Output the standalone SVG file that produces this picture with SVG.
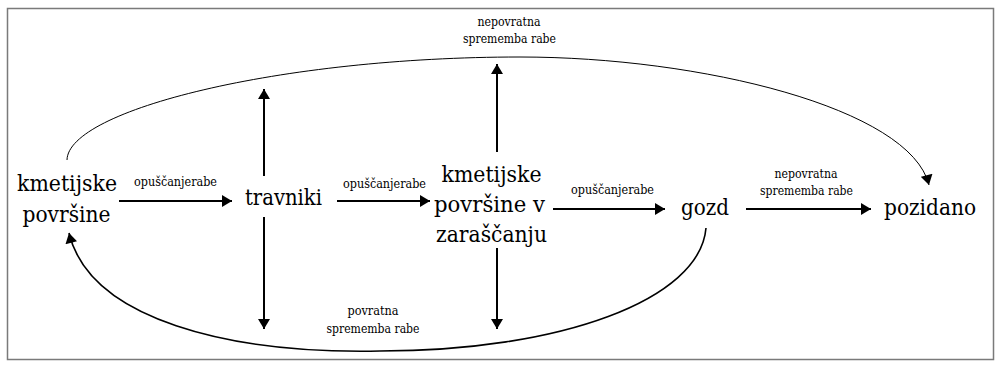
<svg xmlns="http://www.w3.org/2000/svg" width="999" height="365" viewBox="0 0 999 365">
<style>
.node{font-family:'DejaVu Serif',serif;font-size:22px;fill:#000;text-anchor:middle}
.lbl{font-family:'DejaVu Serif',serif;font-size:12px;fill:#000;text-anchor:middle}
.arr{stroke:#000;stroke-width:2;fill:none;marker-end:url(#ah)}
.crv{stroke:#000;fill:none;marker-end:url(#ah)}
</style>
<defs>
<marker id="ah" markerUnits="userSpaceOnUse" markerWidth="12" markerHeight="12" viewBox="0 0 10 12" refX="10" refY="6" orient="auto">
<path d="M0,0 L10,6 L0,12 Z" fill="#000"/>
</marker>
</defs>
<rect x="7.5" y="8.5" width="986" height="351" fill="#fff" stroke="#7a7a7a" stroke-width="1.5"/>
<g id="connectors">
<line class="arr" x1="119" y1="201" x2="232" y2="201"/>
<line class="arr" x1="337" y1="201" x2="430" y2="201"/>
<line class="arr" x1="553" y1="209" x2="665" y2="209"/>
<line class="arr" x1="746" y1="209" x2="871" y2="209"/>
<line class="arr" x1="264" y1="176" x2="264" y2="89"/>
<line class="arr" x1="264" y1="217" x2="264" y2="329"/>
<line class="arr" x1="497" y1="152" x2="497" y2="64"/>
<line class="arr" x1="497" y1="248" x2="497" y2="329"/>
<path class="crv" stroke="#333" stroke-width="1" d="M67,160 C68,110 280,57 520,57 C700,57 910,108 929,185"/>
<path class="crv" stroke-width="1.6" d="M706,228 C700,300 560,351 380,351 C230,354 90,320 69,233"/>
<text class="lbl" x="175.5" y="186" textLength="83" lengthAdjust="spacingAndGlyphs">opuščanjerabe</text>
<text class="lbl" x="384.5" y="187.5" textLength="83" lengthAdjust="spacingAndGlyphs">opuščanjerabe</text>
<text class="lbl" x="612.5" y="193.5" textLength="83" lengthAdjust="spacingAndGlyphs">opuščanjerabe</text>
<text class="lbl" x="806" y="178" textLength="63" lengthAdjust="spacingAndGlyphs">nepovratna</text>
<text class="lbl" x="806.5" y="194.5" textLength="93" lengthAdjust="spacingAndGlyphs">sprememba rabe</text>
<text class="lbl" x="509" y="26" textLength="63" lengthAdjust="spacingAndGlyphs">nepovratna</text>
<text class="lbl" x="509.5" y="43" textLength="93" lengthAdjust="spacingAndGlyphs">sprememba rabe</text>
<text class="lbl" x="373" y="315" textLength="51" lengthAdjust="spacingAndGlyphs">povratna</text>
<text class="lbl" x="373" y="332.5" textLength="93" lengthAdjust="spacingAndGlyphs">sprememba rabe</text>
</g>
<g id="kmetijske-povrsine">
<text class="node" x="67" y="191" textLength="100" lengthAdjust="spacingAndGlyphs">kmetijske</text>
<text class="node" x="66.5" y="221.5" textLength="88" lengthAdjust="spacingAndGlyphs">površine</text>
</g>
<g id="travniki">
<text class="node" x="283.5" y="205" textLength="77" lengthAdjust="spacingAndGlyphs">travniki</text>
</g>
<g id="kmetijske-povrsine-v-zarascanju">
<text class="node" x="491.5" y="182" textLength="100" lengthAdjust="spacingAndGlyphs">kmetijske</text>
<text class="node" x="489.5" y="212" textLength="111" lengthAdjust="spacingAndGlyphs">površine v</text>
<text class="node" x="491.5" y="242" textLength="111" lengthAdjust="spacingAndGlyphs">zaraščanju</text>
</g>
<g id="gozd">
<text class="node" x="705" y="215" textLength="48" lengthAdjust="spacingAndGlyphs">gozd</text>
</g>
<g id="pozidano">
<text class="node" x="930" y="215" textLength="92" lengthAdjust="spacingAndGlyphs">pozidano</text>
</g>
</svg>
